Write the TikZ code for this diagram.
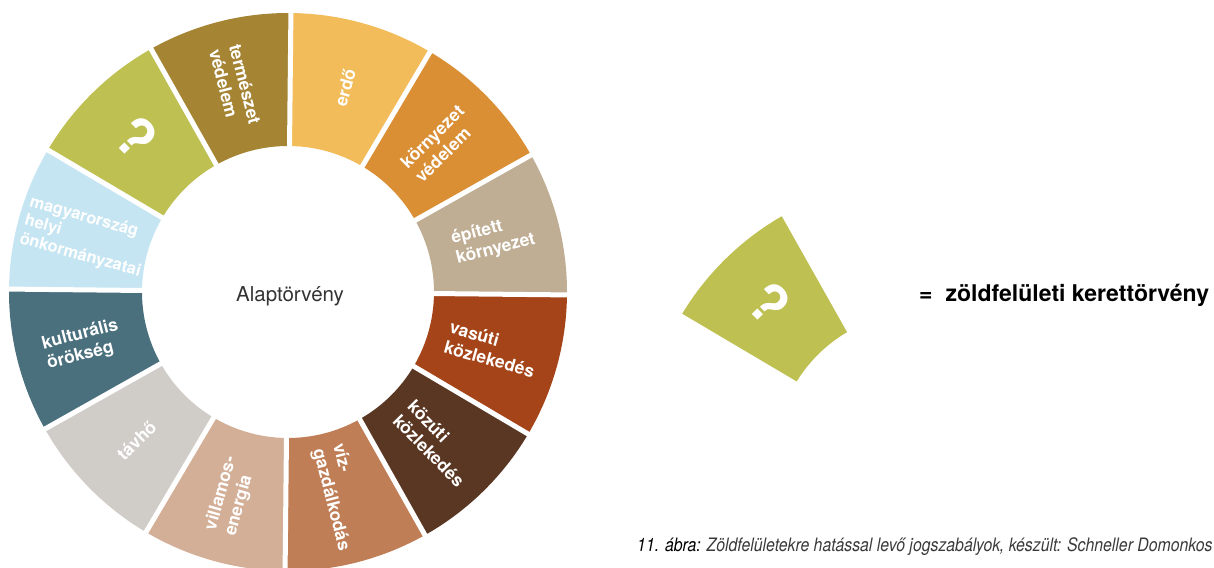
\documentclass[tikz,border=0pt]{standalone}
\usepackage{fontspec}
\setmainfont{TeX Gyre Heros}
\usepackage{graphicx}
\definecolor{cq}{HTML}{BEC052}
\definecolor{cnatur}{HTML}{A58434}
\definecolor{cerdo}{HTML}{F2BC5A}
\definecolor{ckorny}{HTML}{DB8F35}
\definecolor{cepit}{HTML}{BFAD94}
\definecolor{cvasut}{HTML}{A54418}
\definecolor{ckozut}{HTML}{5A3723}
\definecolor{cviz}{HTML}{C07E56}
\definecolor{cvill}{HTML}{D4AF97}
\definecolor{ctav}{HTML}{D0CCC8}
\definecolor{ckult}{HTML}{4A707E}
\definecolor{conk}{HTML}{C6E5F2}
\definecolor{alapgray}{HTML}{333333}
\definecolor{capgray}{HTML}{3A3A3A}
\tikzset{
  seglabel/.style={text=white, font=\bfseries\fontsize{17.5}{20.5}\selectfont, align=left, inner sep=0pt},
  smalllabel/.style={seglabel, font=\bfseries\fontsize{16.5}{19}\selectfont},
  qmark/.style={text=white, font=\bfseries\fontsize{54}{54}\selectfont, inner sep=0pt},
  gapline/.style={white, line width=5pt},
}
\newcommand{\mysegment}[2]{\fill[#2] (#1:146) arc[start angle=#1, end angle={#1+30}, radius=146] -- ({#1+30}:279) arc[start angle={#1+30}, end angle=#1, radius=279] -- cycle;}
\begin{document}
\begin{tikzpicture}[x=1pt,y=1pt]
\useasboundingbox (0,0) rectangle (1214,-567);
\begin{scope}[shift={(288,-292)}, rotate=-0.6]
  \mysegment{90}{cnatur}
  \mysegment{60}{cerdo}
  \mysegment{30}{ckorny}
  \mysegment{0}{cepit}
  \mysegment{-30}{cvasut}
  \mysegment{-60}{ckozut}
  \mysegment{-90}{cviz}
  \mysegment{-120}{cvill}
  \mysegment{-150}{ctav}
  \mysegment{180}{ckult}
  \mysegment{150}{conk}
  \mysegment{120}{cq}
  \foreach \a in {0,30,...,330} \draw[gapline] (\a:140) -- (\a:285);
  \node[seglabel, rotate=-75.6] (natur) at (105:212) {természet\\védelem};
  \node[seglabel, rotate=74.4] (erdo) at (75:212) {erdő};
  \node[seglabel, rotate=44.4] (korny) at (45:212) {környezet\\védelem};
  \node[seglabel, rotate=14.4] (epit) at (15:212) {épített\\környezet};
  \node[seglabel, rotate=-15.6] (vasut) at (-15:212) {vasúti\\közlekedés};
  \node[seglabel, rotate=-45.6] (kozut) at (-45:212) {közúti\\közlekedés};
  \node[seglabel, rotate=-75.6] (viz) at (-75:212) {víz-\\gazdálkodás};
  \node[seglabel, rotate=74.4] (vill) at (-105:212) {villamos-\\energia};
  \node[seglabel, rotate=44.4] (tav) at (-135:212) {távhő};
  \node[seglabel, rotate=14.4] (kult) at (195:212) {kulturális\\örökség};
  \node[smalllabel, rotate=-15.6] (onk) at (165.5:210) {magyarország\\helyi\\önkormányzatai};
  \node[qmark, rotate=-45.6] (kerdes) at (135:216) {?};
\end{scope}
\node[font=\fontsize{20.5}{20.5}\selectfont, text=alapgray] (alap) at (290,-296) {Alaptörvény};
\begin{scope}[shift={(921,-458)}, rotate=-0.6]
  \mysegment{120}{cq}
  \draw[gapline] (120:140) -- (120:285);
  \draw[gapline] (150:140) -- (150:285);
  \node[qmark, rotate=-45.6] (kerdes2) at (135:216) {?};
\end{scope}
\node[anchor=base west, inner sep=0pt, font=\bfseries\fontsize{23}{23}\selectfont] (kerettv) at (919,-301) {=\hspace{13pt}zöldfelületi kerettörvény};
\node[anchor=base west, inner sep=0pt] (caption) at (637,-551) {\scalebox{0.855}[1]{\fontsize{18.5}{20}\selectfont\itshape\textcolor{black}{11. ábra:} \textcolor{capgray}{Zöldfelületekre hatással levő jogszabályok, készült: Schneller Domonkos}}};
\end{tikzpicture}
\end{document}
